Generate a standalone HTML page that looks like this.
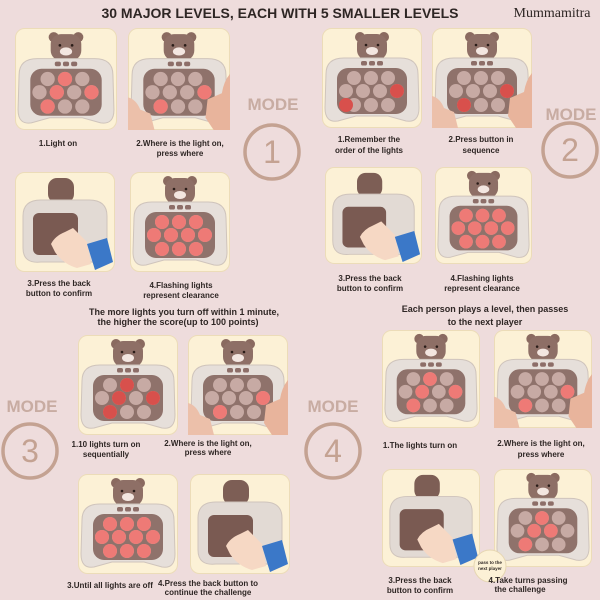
<!DOCTYPE html>
<html><head><meta charset="utf-8"><style>
html,body{margin:0;padding:0;background:#eedcdc;}
svg{display:block}
text{font-family:"Liberation Sans",sans-serif;font-weight:bold;fill:#2e2624}
</style></head><body>
<svg width="600" height="600" viewBox="0 0 600 600" xmlns="http://www.w3.org/2000/svg">
<defs>
<g id="card">
 <rect x="0.5" y="0.5" width="99" height="99" rx="9" fill="#fcf1d6" stroke="#ecdcb8"/>
</g>
<g id="bear">
 <circle cx="38" cy="9" r="5" fill="#8a6a60"/><circle cx="62" cy="9" r="5" fill="#8a6a60"/>
 <rect x="35" y="6" width="30" height="26" rx="10" fill="#8e6f66"/>
 <ellipse cx="50" cy="23" rx="6" ry="4" fill="#f3e6e0"/>
 <circle cx="44" cy="17" r="1.3" fill="#2a1c18"/><circle cx="56" cy="17" r="1.3" fill="#2a1c18"/>
</g>
<g id="front">
 <use href="#bear"/>
 <path d="M4 46 Q4 30 22 30 L78 30 Q96 30 96 46 L97 80 Q97 95 84 93 L66 88 L34 88 L16 93 Q3 95 3 80 Z" fill="#e6dfda" stroke="#cfc4bc"/>
 <rect x="39" y="33" width="6" height="4.5" rx="1.8" fill="#8d6e68"/><rect x="47" y="33" width="6" height="4.5" rx="1.8" fill="#8d6e68"/><rect x="55" y="33" width="6" height="4.5" rx="1.8" fill="#8d6e68"/>
 <rect x="15" y="40" width="70" height="46" rx="11" fill="#8f726b"/>
 <g fill="#c7aaa4">
 <circle cx="32" cy="50" r="7"/><circle cx="49" cy="50" r="7"/><circle cx="66" cy="50" r="7"/>
 <circle cx="24" cy="63" r="7"/><circle cx="41" cy="63" r="7"/><circle cx="58" cy="63" r="7"/><circle cx="75" cy="63" r="7"/>
 <circle cx="32" cy="77" r="7"/><circle cx="49" cy="77" r="7"/><circle cx="66" cy="77" r="7"/>
 </g>
</g>
<g id="alllit" fill="#ee7a76">
 <circle cx="32" cy="50" r="7"/><circle cx="49" cy="50" r="7"/><circle cx="66" cy="50" r="7"/>
 <circle cx="24" cy="63" r="7"/><circle cx="41" cy="63" r="7"/><circle cx="58" cy="63" r="7"/><circle cx="75" cy="63" r="7"/>
 <circle cx="32" cy="77" r="7"/><circle cx="49" cy="77" r="7"/><circle cx="66" cy="77" r="7"/>
</g>
<g id="back">
 <rect x="33" y="6" width="26" height="25" rx="9" fill="#7d5e55"/>
 <path d="M8 44 Q8 28 26 28 L74 28 Q92 28 92 44 L92 76 Q92 92 76 90 L26 90 Q8 92 8 76 Z" fill="#e2dad4" stroke="#cfc4bc"/>
 <rect x="18" y="41" width="45" height="42" rx="6" fill="#7a5a52"/>
 <path d="M36 72 Q40 64 50 60 L58 56 L72 70 L76 92 L62 96 Q48 92 40 80 Z" fill="#f6d8c4"/>
 <path d="M72 72 L92 66 L98 90 L80 98 Z" fill="#3b78c8"/>
</g>
<g id="hands">
 <path d="M0 68 Q8 70 12 80 L22 84 L26 100 L0 100 Z" fill="#ecc0aa"/>
 <path d="M100 45 Q94 52 92 64 L78 70 L76 88 L84 100 L100 100 Z" fill="#e8b49c"/>
</g>
</defs>

<text x="280" y="18" font-size="14" text-anchor="middle" fill="#332a28">30 MAJOR LEVELS, EACH WITH 5 SMALLER LEVELS</text>
<text x="552" y="17" font-size="14" text-anchor="middle" style="font-family:'Liberation Serif',serif;font-weight:normal" fill="#2e2624">Mummamitra</text>

<g fill="none" stroke="#c4a292" stroke-width="3.5">
<circle cx="272" cy="152" r="27"/><circle cx="570" cy="150" r="27"/><circle cx="30" cy="451" r="27"/><circle cx="333" cy="451" r="27"/>
</g>
<g font-size="17" text-anchor="middle">
<text x="273" y="110" style="fill:#c8aca2">MODE</text><text x="571" y="120" style="fill:#c8aca2">MODE</text>
<text x="32" y="412" style="fill:#c8aca2">MODE</text><text x="333" y="412" style="fill:#c8aca2">MODE</text>
</g>
<g font-size="32" text-anchor="middle">
<text x="272" y="163" style="fill:#c4a292;font-weight:normal">1</text><text x="570" y="161" style="fill:#c4a292;font-weight:normal">2</text>
<text x="30" y="462" style="fill:#c4a292;font-weight:normal">3</text><text x="333" y="462" style="fill:#c4a292;font-weight:normal">4</text>
</g>

<!-- Mode 1 -->
<g transform="translate(15,28) scale(1.02)"><use href="#card"/><use href="#front"/>
 <g fill="#ee7a76"><circle cx="49" cy="50" r="7"/><circle cx="41" cy="63" r="7"/><circle cx="75" cy="63" r="7"/><circle cx="32" cy="77" r="7"/></g></g>
<g transform="translate(128,28) scale(1.02)"><use href="#card"/><use href="#front"/>
 <g fill="#ee7a76"><circle cx="75" cy="63" r="7"/><circle cx="32" cy="77" r="7"/></g><use href="#hands"/></g>
<g transform="translate(15,172)"><use href="#card"/><use href="#back"/></g>
<g transform="translate(130,172)"><use href="#card"/><use href="#front"/><use href="#alllit"/></g>

<!-- Mode 2 -->
<g transform="translate(322,28)"><use href="#card"/><use href="#front"/>
 <g fill="#d8504c"><circle cx="75" cy="63" r="7"/><circle cx="24" cy="77" r="7"/></g></g>
<g transform="translate(432,28)"><use href="#card"/><use href="#front"/>
 <g fill="#d8504c"><circle cx="75" cy="63" r="7"/><circle cx="32" cy="77" r="7"/></g><use href="#hands"/></g>
<g transform="translate(325,167) scale(0.97)"><use href="#card"/><use href="#back"/></g>
<g transform="translate(435,167) scale(0.97)"><use href="#card"/><use href="#front"/><use href="#alllit"/></g>

<!-- Mode 3 -->
<g transform="translate(78,335)"><use href="#card"/><use href="#front"/>
 <g fill="#d8504c"><circle cx="49" cy="50" r="7"/><circle cx="41" cy="63" r="7"/><circle cx="75" cy="63" r="7"/><circle cx="32" cy="77" r="7"/></g></g>
<g transform="translate(188,335)"><use href="#card"/><use href="#front"/>
 <g fill="#ee7a76"><circle cx="75" cy="63" r="7"/><circle cx="32" cy="77" r="7"/></g><use href="#hands"/></g>
<g transform="translate(78,474)"><use href="#card"/><use href="#front"/><use href="#alllit"/></g>
<g transform="translate(190,474)"><use href="#card"/><use href="#back"/></g>

<!-- Mode 4 -->
<g transform="translate(382,330) scale(0.98)"><use href="#card"/><use href="#front"/>
 <g fill="#ee7a76"><circle cx="49" cy="50" r="7"/><circle cx="41" cy="63" r="7"/><circle cx="75" cy="63" r="7"/><circle cx="32" cy="77" r="7"/></g></g>
<g transform="translate(494,330) scale(0.98)"><use href="#card"/><use href="#front"/>
 <g fill="#ee7a76"><circle cx="75" cy="63" r="7"/><circle cx="32" cy="77" r="7"/></g><use href="#hands"/></g>
<g transform="translate(382,469) scale(0.98)"><use href="#card"/><use href="#back"/></g>
<g transform="translate(494,469) scale(0.98)"><use href="#card"/><use href="#front"/>
 <g fill="#ee7a76"><circle cx="49" cy="50" r="7"/><circle cx="41" cy="63" r="7"/><circle cx="58" cy="63" r="7"/><circle cx="32" cy="77" r="7"/></g></g>
<circle cx="490" cy="566" r="16" fill="#fcf1d6" stroke="#e6d6b2"/>
<text x="490" y="564" font-size="4.5" text-anchor="middle">pass to the</text>
<text x="490" y="570" font-size="4.5" text-anchor="middle">next player</text>

<g font-size="8" text-anchor="middle">
<text x="58" y="146">1.Light on</text>
<text x="180" y="146">2.Where is the light on,</text><text x="180" y="156">press where</text>
<text x="59" y="286">3.Press the back</text><text x="59" y="296">button to confirm</text>
<text x="181" y="288">4.Flashing lights</text><text x="181" y="298">represent clearance</text>
<text x="369" y="142">1.Remember the</text><text x="369" y="153">order of the lights</text>
<text x="481" y="142">2.Press button in</text><text x="481" y="153">sequence</text>
<text x="370" y="281">3.Press the back</text><text x="370" y="291">button to confirm</text>
<text x="482" y="281">4.Flashing lights</text><text x="482" y="291">represent clearance</text>
<text x="106" y="447">1.10 lights turn on</text><text x="106" y="457">sequentially</text>
<text x="208" y="446">2.Where is the light on,</text><text x="208" y="455">press where</text>
<text x="110" y="588">3.Until all lights are off</text>
<text x="208" y="586">4.Press the back button to</text><text x="208" y="595">continue the challenge</text>
<text x="420" y="448">1.The lights turn on</text>
<text x="541" y="446">2.Where is the light on,</text><text x="541" y="457">press where</text>
<text x="420" y="583">3.Press the back</text><text x="420" y="593">button to confirm</text>
<text x="528" y="583">4.Take turns passing</text><text x="520" y="592">the challenge</text>
</g>
<g font-size="9" text-anchor="middle">
<text x="184" y="315">The more lights you turn off within 1 minute,</text>
<text x="178" y="325">the higher the score(up to 100 points)</text>
<text x="485" y="312">Each person plays a level, then passes</text>
<text x="485" y="325">to the next player</text>
</g>
</svg>
</body></html>
